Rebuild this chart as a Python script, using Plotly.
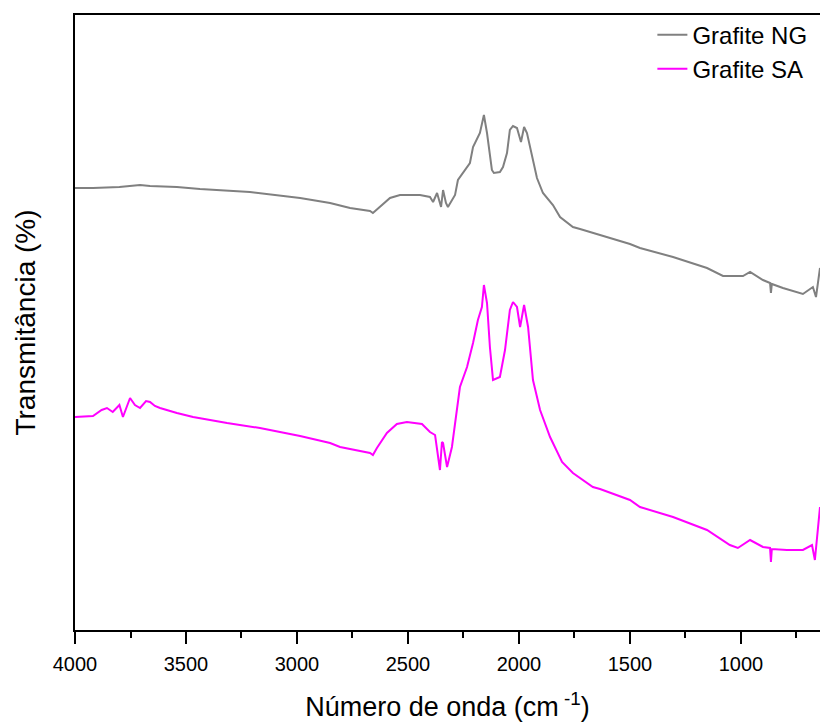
import plotly.graph_objects as go

# Wavenumber (cm^-1) and transmittance (arbitrary %)
ng_x = [4000, 3919, 3800, 3707, 3662, 3541, 3437, 3212, 2986, 2851, 2761, 2671, 2658, 2626,
        2581, 2536, 2446, 2401, 2387, 2369, 2351, 2342, 2329, 2320, 2288, 2275, 2221, 2207,
        2176, 2158, 2144, 2122, 2113, 2086, 2072, 2054, 2041, 2027, 2009, 1991, 1977, 1964,
        1941, 1919, 1892, 1847, 1815, 1757, 1725, 1635, 1500, 1455, 1306, 1153, 1081, 991,
        959, 901, 869, 865, 861, 811, 721, 676, 662, 644]
ng_y = [44.2, 44.2, 44.3, 44.5, 44.4, 44.3, 44.1, 43.8, 43.2, 42.7, 42.2, 41.9, 41.7, 42.3,
        43.2, 43.5, 43.5, 43.3, 42.8, 43.7, 42.3, 44.0, 42.7, 42.3, 43.5, 45.0, 46.7, 48.3,
        49.7, 51.5, 49.7, 46.0, 45.7, 45.8, 46.3, 47.7, 50.0, 50.4, 50.2, 48.8, 50.3, 49.7,
        47.3, 45.2, 43.7, 42.5, 41.3, 40.3, 40.1, 39.5, 38.6, 38.2, 37.3, 36.2, 35.4, 35.4,
        35.8, 35.0, 34.7, 33.7, 34.6, 34.2, 33.6, 34.3, 33.3, 36.2]

sa_x = [4000, 3919, 3880, 3856, 3830, 3800, 3784, 3752, 3730, 3707, 3680, 3662, 3640, 3617,
        3541, 3468, 3315, 3167, 2986, 2851, 2806, 2716, 2671, 2658, 2640, 2595, 2550, 2505,
        2437, 2401, 2378, 2356, 2347, 2342, 2324, 2302, 2279, 2266, 2234, 2207, 2185, 2167,
        2158, 2144, 2131, 2117, 2086, 2063, 2041, 2027, 2009, 1995, 1977, 1959, 1937, 1905,
        1860, 1806, 1757, 1667, 1635, 1500, 1455, 1306, 1153, 1050, 1014, 959, 901, 869,
        865, 861, 793, 721, 680, 667, 644]
sa_y = [21.3, 21.4, 22.0, 22.2, 21.8, 22.5, 21.3, 23.2, 22.5, 22.2, 22.9, 22.8, 22.4, 22.2,
        21.7, 21.3, 20.7, 20.2, 19.4, 18.7, 18.3, 17.9, 17.7, 17.5, 18.2, 19.7, 20.6, 20.8,
        20.6, 19.8, 19.5, 16.0, 18.8, 18.7, 16.3, 18.3, 22.0, 24.3, 26.3, 28.7, 31.0, 32.3,
        34.5, 32.7, 28.3, 25.0, 25.3, 28.0, 32.0, 32.8, 32.3, 30.3, 32.5, 30.3, 25.0, 22.0,
        19.3, 16.8, 15.7, 14.3, 14.1, 13.0, 12.3, 11.3, 10.0, 8.5, 8.2, 9.0, 8.3, 8.2,
        6.8, 8.1, 8.0, 8.0, 8.5, 7.0, 12.3]

x_ticks = [4000, 3500, 3000, 2500, 2000, 1500, 1000]

FONT = "Liberation Sans, Arial, sans-serif"

fig = go.Figure()
fig.add_trace(go.Scatter(x=ng_x, y=ng_y, mode="lines", name="Grafite NG",
                         line=dict(color="#808080", width=2)))
fig.add_trace(go.Scatter(x=sa_x, y=sa_y, mode="lines", name="Grafite SA",
                         line=dict(color="#FF00FF", width=2)))

fig.update_layout(
    width=820, height=722,
    margin=dict(l=75, r=0, t=15, b=92, autoexpand=False),
    paper_bgcolor="white", plot_bgcolor="white",
    font=dict(family=FONT, color="black"),
    showlegend=True,
    legend=dict(x=0.775, y=1.004, xanchor="left", yanchor="top",
                bgcolor="rgba(0,0,0,0)", font=dict(size=24, family=FONT),
                tracegroupgap=0, itemwidth=30),
    xaxis=dict(
        range=[4000, 644], autorange=False, automargin=False,
        tickvals=x_ticks, ticktext=[str(v) for v in x_ticks],
        ticks="outside", ticklen=12, tickwidth=2, tickcolor="black",
        ticklabelstandoff=3,
        minor=dict(dtick=250, tick0=0, ticks="outside", ticklen=6, tickwidth=2, tickcolor="black"),
        showline=True, linecolor="black", linewidth=2, mirror=True,
        showgrid=False, zeroline=False,
        tickfont=dict(size=20, family=FONT),
        title=dict(text="Número de onda (cm<sup> -1</sup>)", font=dict(size=27, family=FONT),
                   standoff=24),
    ),
    yaxis=dict(
        range=[0, 61.5], autorange=False, automargin=False,
        showticklabels=False, ticks="",
        showline=True, linecolor="black", linewidth=2, mirror=False,
        showgrid=False, zeroline=False,
        title=dict(text="Transmitância (%)", font=dict(size=28, family=FONT), standoff=29),
    ),
)

fig.write_html("out.html", config={"displayModeBar": False},
               post_script="document.body.style.margin='0';document.body.style.overflow='hidden';")
